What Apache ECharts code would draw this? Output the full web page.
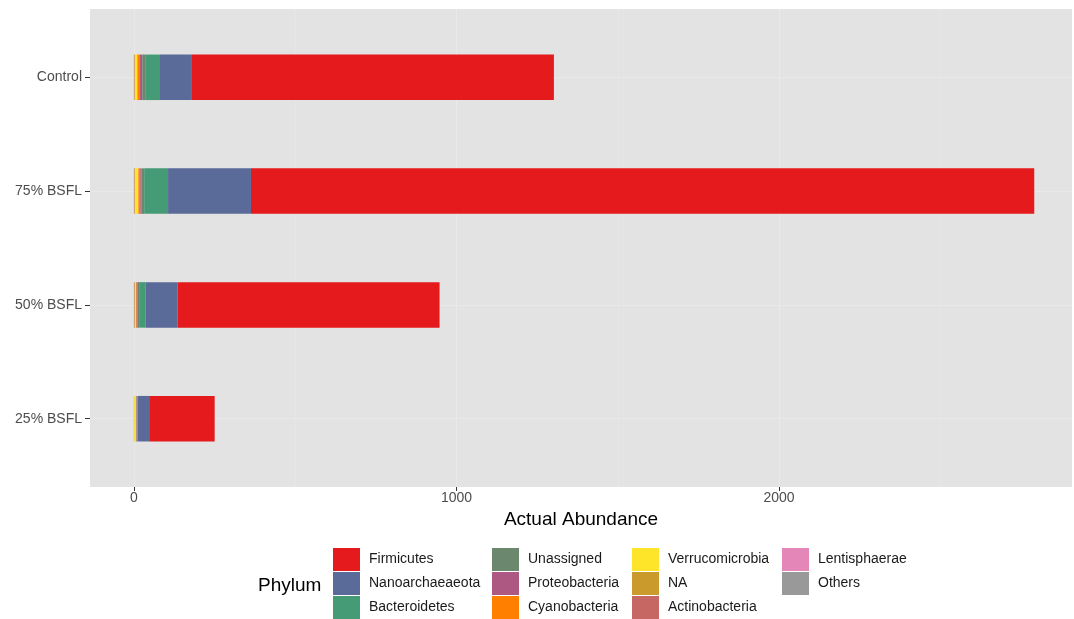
<!DOCTYPE html>
<html>
<head>
<meta charset="utf-8">
<script src="https://cdn.jsdelivr.net/npm/echarts@6/dist/echarts.min.js"></script>
<style>
html,body{margin:0;padding:0;background:#fff;}
#chart{width:1074px;height:619px;}
</style>
</head>
<body>
<div id="chart"></div>
<script>
// Categories (top to bottom)
const categories = ['Control', '75% BSFL', '50% BSFL', '25% BSFL'];

// Phylum values per category (Control, 75%, 50%, 25%)
const Firmicutes      = [1122, 2428, 812, 203];
const Nanoarchaeaeota = [99, 257, 99, 35];
const Bacteroidetes   = [46, 74, 18, 2];
const Unassigned      = [9, 9, 8, 2];
const Proteobacteria  = [7, 3, 2, 1];
const Cyanobacteria   = [8, 6, 2, 1];
const Verrucomicrobia = [7, 10, 3, 5];
const NAvals          = [2, 2, 2, 1];
const Actinobacteria  = [1, 1, 1, 0];
const Lentisphaerae   = [0.5, 0.5, 0.3, 0.2];
const Others          = [0.5, 0.5, 0.3, 0.2];

const xTicks = [0, 1000, 2000];
const xMinorTicks = [500, 1500, 2500];

// stacking order from zero outward (ggplot reverse order)
const seriesDefs = [
  ['Others', Others, '#999999'],
  ['Lentisphaerae', Lentisphaerae, '#E486B7'],
  ['Actinobacteria', Actinobacteria, '#C66764'],
  ['NA', NAvals, '#CA9A2C'],
  ['Verrucomicrobia', Verrucomicrobia, '#FFE529'],
  ['Cyanobacteria', Cyanobacteria, '#FF7F00'],
  ['Proteobacteria', Proteobacteria, '#AD5882'],
  ['Unassigned', Unassigned, '#6B886E'],
  ['Bacteroidetes', Bacteroidetes, '#449B76'],
  ['Nanoarchaeaeota', Nanoarchaeaeota, '#5A6A99'],
  ['Firmicutes', Firmicutes, '#E41A1C']
];

const legendCols = [
  ['Firmicutes', 'Nanoarchaeaeota', 'Bacteroidetes'],
  ['Unassigned', 'Proteobacteria', 'Cyanobacteria'],
  ['Verrucomicrobia', 'NA', 'Actinobacteria'],
  ['Lentisphaerae', 'Others']
];
const legendLefts = [333, 492, 632, 782];

const FONT = 'Liberation Sans, Arial, sans-serif';
const XMIN = -136, XMAX = 2908;

const chart = echarts.init(document.getElementById('chart'), null, {renderer: 'canvas'});

const option = {
  backgroundColor: '#ffffff',
  animation: false,
  textStyle: {fontFamily: FONT},
  grid: [
    {left: 90, right: 2, top: 9, bottom: 132, show: true, backgroundColor: '#E3E3E3', borderWidth: 0},
    {left: 90, right: 2, top: 20.4, bottom: 143.4}
  ],
  xAxis: [
    {
      gridIndex: 0, type: 'value', min: XMIN, max: XMAX,
      axisLine: {show: false, onZero: false},
      axisTick: {show: true, length: 4, customValues: xTicks, lineStyle: {color: '#333333', width: 1}},
      axisLabel: {customValues: xTicks, color: '#4D4D4D', fontSize: 14, margin: 4, fontFamily: FONT,
                  formatter: v => String(v)},
      splitLine: {show: true, lineStyle: {color: '#E9E9E9', width: 1.2}},
      name: 'Actual Abundance', nameLocation: 'middle', nameGap: 20,
      nameTextStyle: {color: '#000000', fontSize: 19, fontFamily: FONT}
    },
    {
      gridIndex: 0, type: 'value', min: XMIN, max: XMAX,
      axisLine: {show: false, onZero: false},
      axisTick: {show: false, customValues: xMinorTicks},
      axisLabel: {show: false, customValues: xMinorTicks},
      splitLine: {show: true, lineStyle: {color: '#E7E7E7', width: 0.8}}
    },
    {
      gridIndex: 1, type: 'value', min: XMIN, max: XMAX, show: false,
      axisLine: {onZero: false},
      splitLine: {show: false}
    }
  ],
  yAxis: [
    {
      gridIndex: 0, type: 'value', min: -0.6, max: 3.6,
      axisLine: {show: false, onZero: false},
      axisTick: {show: false, customValues: [0, 1, 2, 3]},
      axisLabel: {show: false, customValues: [0, 1, 2, 3]},
      splitLine: {show: true, lineStyle: {color: '#E9E9E9', width: 1.2}}
    },
    {
      gridIndex: 1, type: 'category', data: categories, inverse: true,
      axisLine: {show: false, onZero: false},
      axisTick: {show: true, alignWithLabel: true, length: 5, lineStyle: {color: '#333333', width: 1}},
      axisLabel: {color: '#4D4D4D', fontSize: 14, margin: 8, fontFamily: FONT},
      splitLine: {show: false}
    }
  ],
  legend: legendCols.map((col, i) => ({
    data: col,
    orient: 'vertical',
    left: legendLefts[i],
    top: 548,
    padding: 0,
    itemWidth: 27,
    itemHeight: 23,
    itemGap: 1,
    icon: 'rect',
    selectedMode: false,
    textStyle: {color: '#1A1A1A', fontSize: 14, fontFamily: FONT, padding: [0, 0, 0, 4]}
  })),
  graphic: [
    {
      type: 'text', left: 258, top: 576,
      style: {text: 'Phylum', fill: '#000000', font: '19px ' + FONT}
    }
  ],
  series: seriesDefs.map(([name, vals, color]) => ({
    name: name,
    type: 'bar',
    stack: 'total',
    xAxisIndex: 2,
    yAxisIndex: 1,
    barWidth: '40%',
    data: vals,
    itemStyle: {color: color},
    emphasis: {disabled: true}
  }))
};

chart.setOption(option);
</script>
</body>
</html>
